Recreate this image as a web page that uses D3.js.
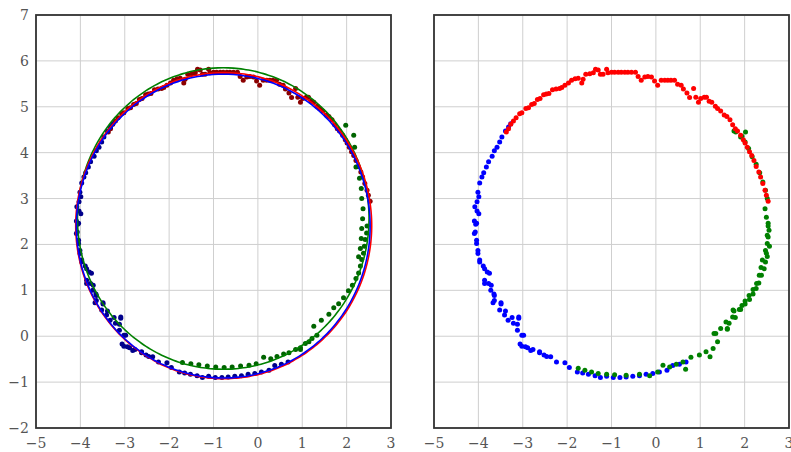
<!DOCTYPE html>
<html>
<head>
<meta charset="utf-8">
<script src="https://cdn.jsdelivr.net/npm/d3@7"></script>
<style>
  body { margin: 0; background: #fff; }
  .grid line { stroke: #cfcfcf; stroke-width: 1; }
  .tick-label { font-family: "DejaVu Serif", "Liberation Serif", serif; font-size: 14px; fill: #555; }
  .frame { fill: none; stroke: #333; stroke-width: 1.8; }
</style>
</head>
<body>
<svg width="791" height="452"></svg>
<script>
const xTicks = [-5, -4, -3, -2, -1, 0, 1, 2, 3]
const yTicks = [-2, -1, 0, 1, 2, 3, 4, 5, 6, 7]

// raw points (right panel)
const redPts = [
  [-3.37,4.45],[-3.32,4.52],[-3.27,4.62],[-3.21,4.69],[-3.15,4.76],[-3.07,4.85],[-3.02,4.87],
  [-2.93,4.96],[-2.87,4.98],[-2.80,5.05],[-2.74,5.07],[-2.67,5.16],[-2.61,5.18],[-2.53,5.26],
  [-2.47,5.28],[-2.41,5.29],[-2.33,5.37],[-2.25,5.39],[-2.17,5.40],[-2.12,5.42],[-2.05,5.47],
  [-1.97,5.52],[-1.90,5.58],[-1.82,5.61],[-1.75,5.62],[-1.67,5.52],[-1.64,5.60],[-1.58,5.71],
  [-1.49,5.72],[-1.41,5.74],[-1.36,5.82],[-1.30,5.80],[-1.25,5.71],[-1.19,5.71],[-1.11,5.82],
  [-1.08,5.74],[-1.00,5.75],[-0.93,5.75],[-0.85,5.75],[-0.78,5.75],[-0.70,5.75],[-0.63,5.75],
  [-0.55,5.75],[-0.46,5.75],[-0.40,5.66],[-0.33,5.58],[-0.25,5.65],[-0.18,5.66],[-0.10,5.65],
  [-0.03,5.56],[0.04,5.47],[0.12,5.58],[0.20,5.58],[0.27,5.58],[0.34,5.58],[0.42,5.58],
  [0.49,5.49],[0.57,5.47],[0.62,5.39],[0.70,5.30],[0.76,5.20],[0.85,5.40],[0.90,5.21],
  [0.96,5.10],[1.01,5.18],[1.09,5.21],[1.14,5.21],[1.20,5.12],[1.26,5.10],[1.34,5.01],
  [1.39,4.96],[1.46,4.91],[1.54,4.82],[1.60,4.79],[1.67,4.72],[1.73,4.61],[1.79,4.52],
  [1.84,4.47],[1.91,4.38],[1.97,4.28],[2.01,4.21],[2.06,4.12],[2.11,4.02],[2.16,3.94],
  [2.21,3.83],[2.26,3.70],[2.32,3.58],[2.36,3.47],[2.41,3.33],[2.46,3.18],[2.49,3.07],[2.53,2.94]
]

const bluePts = [
  [-3.27,4.63],[-3.32,4.56],[-3.39,4.47],[-3.47,4.34],[-3.52,4.23],[-3.58,4.12],[-3.64,4.04],
  [-3.69,3.92],[-3.77,3.80],[-3.82,3.69],[-3.88,3.56],[-3.92,3.47],[-3.97,3.34],[-4.01,3.14],
  [-3.99,3.04],[-4.03,2.93],[-4.08,2.82],[-4.03,2.73],[-3.99,2.67],[-4.09,2.51],[-4.06,2.44],
  [-4.04,2.46],[-4.07,2.27],[-4.09,2.24],[-4.04,2.09],[-4.04,2.02],[-4.01,1.87],[-4.01,1.80],
  [-3.97,1.66],[-3.97,1.62],[-3.89,1.53],[-3.86,1.47],[-3.80,1.40],[-3.75,1.37],[-3.86,1.22],
  [-3.86,1.15],[-3.77,1.15],[-3.71,1.11],[-3.72,1.00],[-3.65,0.92],[-3.64,0.89],[-3.64,0.78],
  [-3.67,0.73],[-3.49,0.73],[-3.49,0.70],[-3.52,0.57],[-3.39,0.55],[-3.41,0.46],[-3.09,0.42],
  [-3.24,0.41],[-3.09,0.39],[-3.33,0.35],[-3.21,0.28],[-3.12,0.26],[-3.12,0.13],[-3.02,0.02],
  [-2.98,0.02],[-3.06,-0.17],[-3.02,-0.22],[-2.94,-0.23],[-2.89,-0.25],[-2.77,-0.29],[-2.82,-0.31],
  [-2.62,-0.34],[-2.62,-0.36],[-2.52,-0.41],[-2.46,-0.44],[-2.37,-0.45],[-2.24,-0.56],[-2.05,-0.58],
  [-1.95,-0.68],[-1.77,-0.78],[-1.65,-0.80],[-1.52,-0.83],[-1.37,-0.86],[-1.25,-0.90],[-1.11,-0.87],
  [-0.96,-0.90],[-0.81,-0.90],[-0.67,-0.89],[-0.52,-0.87],[-0.37,-0.86],[-0.22,-0.83],[-0.07,-0.81],
  [0.08,-0.78],[0.25,-0.74],[0.38,-0.64],[0.53,-0.61],[0.68,-0.56]
]

const greenPts = [
  [-1.75,-0.70],[-1.60,-0.74],[-1.45,-0.78],[-1.30,-0.81],[-1.11,-0.83],[-0.93,-0.84],[-0.67,-0.85],
  [-0.37,-0.83],[-0.14,-0.86],[0.04,-0.78],[0.16,-0.63],[0.31,-0.67],[0.46,-0.61],[0.61,-0.56],
  [0.67,-0.72],[0.79,-0.46],[0.98,-0.41],[1.13,-0.34],[1.22,-0.45],[1.29,-0.27],[1.39,-0.12],
  [1.31,0.06],[1.35,0.06],[1.46,0.17],[1.61,0.15],[1.61,0.17],[1.65,0.28],[1.58,0.31],[1.73,0.42],
  [1.79,0.41],[1.76,0.55],[1.74,0.57],[1.88,0.58],[1.91,0.58],[1.94,0.67],[2.01,0.70],[2.01,0.77],
  [2.11,0.80],[2.10,0.89],[2.19,0.92],[2.19,1.02],[2.26,1.04],[2.27,1.15],[2.32,1.16],[2.33,1.33],
  [2.38,1.33],[2.37,1.50],[2.44,1.47],[2.47,1.62],[2.40,1.66],[2.51,1.74],[2.49,1.81],[2.47,1.87],
  [2.56,1.96],[2.51,2.02],[2.53,2.16],[2.51,2.20],[2.55,2.31],[2.53,2.40],[2.53,2.46],[2.49,2.59],
  [2.46,2.78],[2.51,3.00],[2.47,3.18],[2.41,3.36],[2.34,3.56],[2.26,3.75],[2.17,3.91],[2.09,4.09],
  [2.01,4.23],[1.94,4.36],[1.91,4.34],[2.02,4.45],[1.80,4.45],[1.76,4.47]
]

// registered green points (left panel)
const greenLeftPts = [
  [-1.70,-0.57],[-1.51,-0.60],[-1.33,-0.62],[-1.14,-0.65],[-0.95,-0.67],[-0.76,-0.68],[-0.58,-0.67],
  [-0.39,-0.65],[-0.20,-0.63],[-0.04,-0.60],[0.13,-0.46],[0.29,-0.49],[0.43,-0.44],[0.58,-0.39],
  [0.70,-0.36],[0.85,-0.29],[0.96,-0.25],[0.96,-0.29],[1.07,-0.16],[1.15,-0.12],[1.22,-0.05],
  [1.33,0.02],[1.26,0.22],[1.43,0.35],[1.60,0.48],[1.71,0.62],[1.82,0.71],[1.93,0.84],[2.04,0.99],
  [2.13,1.11],[2.21,1.26],[2.27,1.38],[2.31,1.53],[2.34,1.67],[2.27,1.73],[2.38,1.81],[2.31,1.91],
  [2.40,1.96],[2.42,2.11],[2.33,2.13],[2.45,2.25],[2.34,2.35],[2.46,2.40],[2.36,2.56],[2.37,2.78],
  [2.34,3.00],[2.33,3.22],[2.29,3.44],[2.21,3.69],[2.18,4.12],[2.16,4.38],[1.98,4.60]
]

// fitted circles (left panel)
const fitCircles = [
  { name: 'green', cx: -0.78, cy: 2.565, r: 3.285 },
  { name: 'red',   cx: -0.77, cy: 2.41,  r: 3.335 },
  { name: 'blue',  cx: -0.78, cy: 2.40,  r: 3.31 }
]

const fitColor = { red: '#ff0000', blue: '#0000ff', green: '#008000' }

const svg = d3.select('svg')
const panelW = 355
const plotTop = 15, plotBottom = 428
const panels = [{ left: 36, showY: true }, { left: 434, showY: false }]

const y = d3.scaleLinear().domain([-2, 7]).range([plotBottom, plotTop])

function drawPanel(p) {
  const x = d3.scaleLinear().domain([-5, 3]).range([p.left, p.left + panelW])
  const g = svg.append('g')

  const grid = g.append('g').attr('class', 'grid')
  grid.selectAll('.vx').data(xTicks).enter().append('line')
    .attr('x1', d => x(d)).attr('x2', d => x(d))
    .attr('y1', plotTop).attr('y2', plotBottom)
  grid.selectAll('.hy').data(yTicks).enter().append('line')
    .attr('x1', p.left).attr('x2', p.left + panelW)
    .attr('y1', d => y(d)).attr('y2', d => y(d))

  g.selectAll('.xl').data(xTicks).enter().append('text')
    .attr('class', 'tick-label')
    .attr('x', d => x(d)).attr('y', 448)
    .attr('text-anchor', 'middle')
    .text(d => d < 0 ? '\u2212' + Math.abs(d) : d)

  if (p.showY) {
    g.selectAll('.yl').data(yTicks).enter().append('text')
      .attr('class', 'tick-label')
      .attr('x', 29).attr('y', d => y(d) + 5)
      .attr('text-anchor', 'end')
      .text(d => d < 0 ? '\u2212' + Math.abs(d) : d)
  }
  return { g, x }
}

function dots(g, x, pts, color) {
  g.append('g').selectAll('circle').data(pts).enter().append('circle')
    .attr('cx', d => x(d[0])).attr('cy', d => y(d[1]))
    .attr('r', 2.5)
    .attr('fill', color)
}

// left panel: registered points + fits
const L = drawPanel(panels[0])
dots(L.g, L.x, redPts, '#8b0000')
dots(L.g, L.x, bluePts, '#00008b')
dots(L.g, L.x, greenLeftPts, '#006400')

const angles = d3.range(0, 360, 2)
fitCircles.forEach(c => {
  const line = d3.line()
    .x(a => L.x(c.cx + c.r * Math.cos(a * Math.PI / 180)))
    .y(a => y(c.cy + c.r * Math.sin(a * Math.PI / 180)))
    .curve(d3.curveCatmullRomClosed)
  L.g.append('path')
    .attr('d', line(angles))
    .attr('fill', 'none')
    .attr('stroke', fitColor[c.name])
    .attr('stroke-width', 1.6)
})
L.g.append('rect').attr('class', 'frame')
  .attr('x', panels[0].left).attr('y', plotTop)
  .attr('width', panelW).attr('height', plotBottom - plotTop)

// right panel: raw points
const R = drawPanel(panels[1])
dots(R.g, R.x, bluePts, '#0000ff')
dots(R.g, R.x, greenPts, '#008000')
dots(R.g, R.x, redPts, '#ff0000')
R.g.append('rect').attr('class', 'frame')
  .attr('x', panels[1].left).attr('y', plotTop)
  .attr('width', panelW).attr('height', plotBottom - plotTop)
</script>
</body>
</html>
